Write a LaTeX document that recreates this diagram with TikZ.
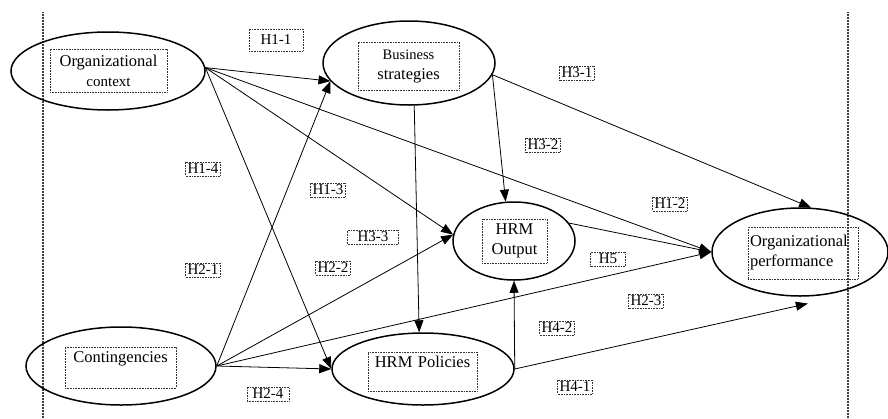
\documentclass[tikz,border=0pt]{standalone}
\usepackage{fontspec}
\setmainfont{Liberation Serif}
\usetikzlibrary{shapes.geometric,arrows.meta}

\begin{document}
\begin{tikzpicture}[x=1pt,y=-1pt,
  oval/.style={ellipse, draw, line width=1.5pt, inner sep=0pt},
  txtbox/.style={draw=black!80, densely dotted, line width=0.6pt, inner sep=2pt,
                 font=\fontsize{16.5}{20}\selectfont, align=center},
  hyp/.style={draw=black!80, densely dotted, line width=0.6pt, inner xsep=2pt,
              inner ysep=2pt, font=\fontsize{15}{17}\selectfont},
  link/.style={line width=0.8pt, -{Triangle[length=12pt,width=9pt]}},
  sepline/.style={black!75, line width=1.2pt, dash pattern=on 1pt off 0.5pt}]

\useasboundingbox (0,0) rectangle (888,418);

% frame separators
\coordinate (lt) at (43,12);  \coordinate (lb) at (43,418);
\coordinate (rt) at (848,12); \coordinate (rb) at (848,418);
\draw[sepline] (lt) -- (lb);
\draw[sepline] (rt) -- (rb);

% constructs
\node[oval, minimum width=194pt, minimum height=78pt] (oc) at (108,71) {};
\node[oval, minimum width=172pt, minimum height=84pt] (bs) at (409,63) {};
\node[oval, minimum width=122pt, minimum height=78pt] (ho) at (514,241) {};
\node[oval, minimum width=176pt, minimum height=88pt] (op) at (800,252) {};
\node[oval, minimum width=190pt, minimum height=78pt] (ct) at (121,366) {};
\node[oval, minimum width=182pt, minimum height=72pt] (hp) at (423,369) {};

% labels inside the constructs
\node[txtbox, text width=113pt, minimum height=43pt] (oct) at (108.5,70.5)
  {Organizational\\{\fontsize{15}{20}\selectfont context}};
\node[txtbox, text width=97pt, minimum height=48pt] (bst) at (408.5,66)
  {{\fontsize{14.5}{20}\selectfont Business}\\strategies};
\node[txtbox, text width=61pt, minimum height=44pt] (hot) at (514.5,241)
  {HRM\\Output};
\node[txtbox, text width=106pt, minimum height=52pt, align=left] (opt) at (803,253)
  {Organizational\\performance};
\node[txtbox, text width=107pt, minimum height=41pt] (ctt) at (120.5,367.5)
  {Contingencies\\\mbox{}};
\node[txtbox, text width=105pt, minimum height=39pt] (hpt) at (422.5,371.5)
  {HRM Policies\\\mbox{}};

% hypothesised paths
\draw[link] (oc.2) -- (bs.193);
\draw[link] (oc.2) -- (ho.174);
\draw[link] (oc.2) -- (op.west);
\draw[link] (oc.2) -- (hp.180);
\draw[link] (ct.east) -- (bs.193);
\draw[link] (ct.east) -- (ho.174);
\draw[link] (ct.east) -- (op.west);
\draw[link] (ct.east) -- (hp.west);
\draw[link] (bs.-83) -- (hp.96);
\draw[link] (bs.-8) -- (ho.102);
\draw[link] (bs.-8) -- (op.76);
\draw[link] (ho.18) -- (op.west);
\draw[link] (hp.east) -- (ho.south);
\draw[link] (hp.east) -- ([yshift=-7pt]op.-80);

% hypothesis tags
\node[hyp, minimum width=54pt, minimum height=22pt] (h11) at (276,40) {H1-1};
\node[hyp] (h14) at (203,169) {H1-4};
\node[hyp] (h13) at (328,190) {H1-3};
\node[hyp] (h31) at (577,73) {H3-1};
\node[hyp] (h32) at (543,145) {H3-2};
\node[hyp] (h12) at (670,204) {H1-2};
\node[hyp, minimum width=51pt] (h33) at (373,237) {H3-3};
\node[hyp] (h21) at (203,270) {H2-1};
\node[hyp] (h22) at (333,268) {H2-2};
\node[hyp, minimum width=42pt] (h24) at (268,394) {H2-4};
\node[hyp, minimum width=35pt] (h5) at (608,259) {H5};
\node[hyp] (h23) at (646,301) {H2-3};
\node[hyp] (h42) at (557,328) {H4-2};
\node[hyp] (h41) at (575,387) {H4-1};
\end{tikzpicture}
\end{document}
